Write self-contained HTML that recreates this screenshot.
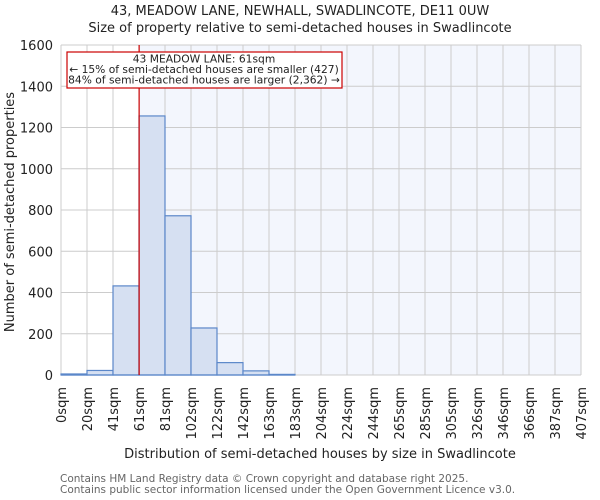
<!DOCTYPE html>
<html><head><meta charset="utf-8"><style>
body{margin:0;background:#fff}
svg{display:block;font-family:"DejaVu Sans","Liberation Sans",sans-serif}
</style></head><body>
<svg id="chart" width="600" height="500">
<text x="300" y="15" text-anchor="middle" font-size="13" fill="#222">43, MEADOW LANE, NEWHALL, SWADLINCOTE, DE11 0UW</text>
<text x="300" y="32" text-anchor="middle" font-size="13" fill="#222">Size of property relative to semi-detached houses in Swadlincote</text>
<rect id="shade" fill="#f3f6fd"/>
<g id="grid"></g><g id="bars"></g><g id="axes"></g>
<text x="0" y="0" transform="translate(14,212) rotate(-90)" text-anchor="middle" font-size="13" fill="#222">Number of semi-detached properties</text>
<text x="320" y="458" text-anchor="middle" font-size="13" fill="#222">Distribution of semi-detached houses by size in Swadlincote</text>
<text x="60" y="482" font-size="10.5" fill="#666">Contains HM Land Registry data © Crown copyright and database right 2025.</text>
<text x="60" y="493" font-size="10.5" fill="#666">Contains public sector information licensed under the Open Government Licence v3.0.</text>
</svg>
<script>
const categories=["0sqm","20sqm","41sqm","61sqm","81sqm","102sqm","122sqm","142sqm","163sqm","183sqm","204sqm","224sqm","244sqm","265sqm","285sqm","305sqm","326sqm","346sqm","366sqm","387sqm","407sqm"];
const counts=[5,22,432,1256,772,228,60,20,3,0,0,0,0,0,0,0,0,0,0,0];
const yTicks=[0,200,400,600,800,1000,1200,1400,1600];
const markerValue=61;
const markerLabel=["43 MEADOW LANE: 61sqm","← 15% of semi-detached houses are smaller (427)","84% of semi-detached houses are larger (2,362) →"];
const binStarts=[0,20.3,40.6,60.9,81.2,101.5,121.8,142.1,162.4,182.7,203,223.3,243.6,263.9,284.2,304.5,324.8,345.1,365.4,385.7,406];
const L=61,R=581,T=45,B=375,ymax=1600;
const NS="http://www.w3.org/2000/svg";
const bw=(R-L)/counts.length;
const x=i=>L+i*bw;
const y=v=>B-(v/ymax)*(B-T);
const xv=v=>{for(let i=0;i<binStarts.length-1;i++){if(v<=binStarts[i+1])return x(i)+(v-binStarts[i])/(binStarts[i+1]-binStarts[i])*bw;}return R;};
function mk(tag,attrs,parent){const e=document.createElementNS(NS,tag);for(const k in attrs)e.setAttribute(k,attrs[k]);parent.appendChild(e);return e;}
const mx=xv(markerValue);
const shade=document.getElementById('shade');
shade.setAttribute('x',mx);shade.setAttribute('y',T);shade.setAttribute('width',R-mx);shade.setAttribute('height',B-T);
const grid=document.getElementById('grid'),bars=document.getElementById('bars'),axes=document.getElementById('axes');
yTicks.forEach(t=>{
 const l=mk('line',{x1:L,x2:R,y1:y(t),y2:y(t),stroke:'#ccc','stroke-width':1},grid);
 
 
 const tx=mk('text',{x:L-8,y:y(t)+5,'text-anchor':'end','font-size':13,fill:'#222'},axes);
 tx.textContent=t;
 
 
});
categories.forEach((c,i)=>{
 const l=mk('line',{x1:x(i),x2:x(i),y1:T,y2:B,stroke:'#ccc','stroke-width':1},grid);
 
 
 const tx=mk('text',{transform:`translate(${x(i)+5},${B+12}) rotate(-90)`,'text-anchor':'end','font-size':13,fill:'#222'},axes);
 tx.textContent=c;
 
 
});
counts.forEach((v,i)=>{
 if(v<=0)return;
 const r=mk('rect',{x:x(i),y:y(v),width:bw,height:B-y(v),fill:'#d6e0f2',stroke:'#5b87c9','stroke-width':1.2},bars);
 
 
});
const base=mk('line',{x1:L,x2:x(counts.length-11),y1:B,y2:B,stroke:'#5b87c9','stroke-width':1.2},bars);


const ml=mk('line',{x1:mx,x2:mx,y1:T,y2:B,stroke:'#c00','stroke-width':1.2},axes);


const box=mk('rect',{x:67,y:52,width:275,height:36,fill:'#fff',stroke:'#c00','stroke-width':1.2},axes);


markerLabel.forEach((s,i)=>{
 const t=mk('text',{x:204,y:62.5+i*10.5,'text-anchor':'middle','font-size':10.7,fill:'#222'},axes);
 t.textContent=s;
 
 
});
</script>
</body></html>
